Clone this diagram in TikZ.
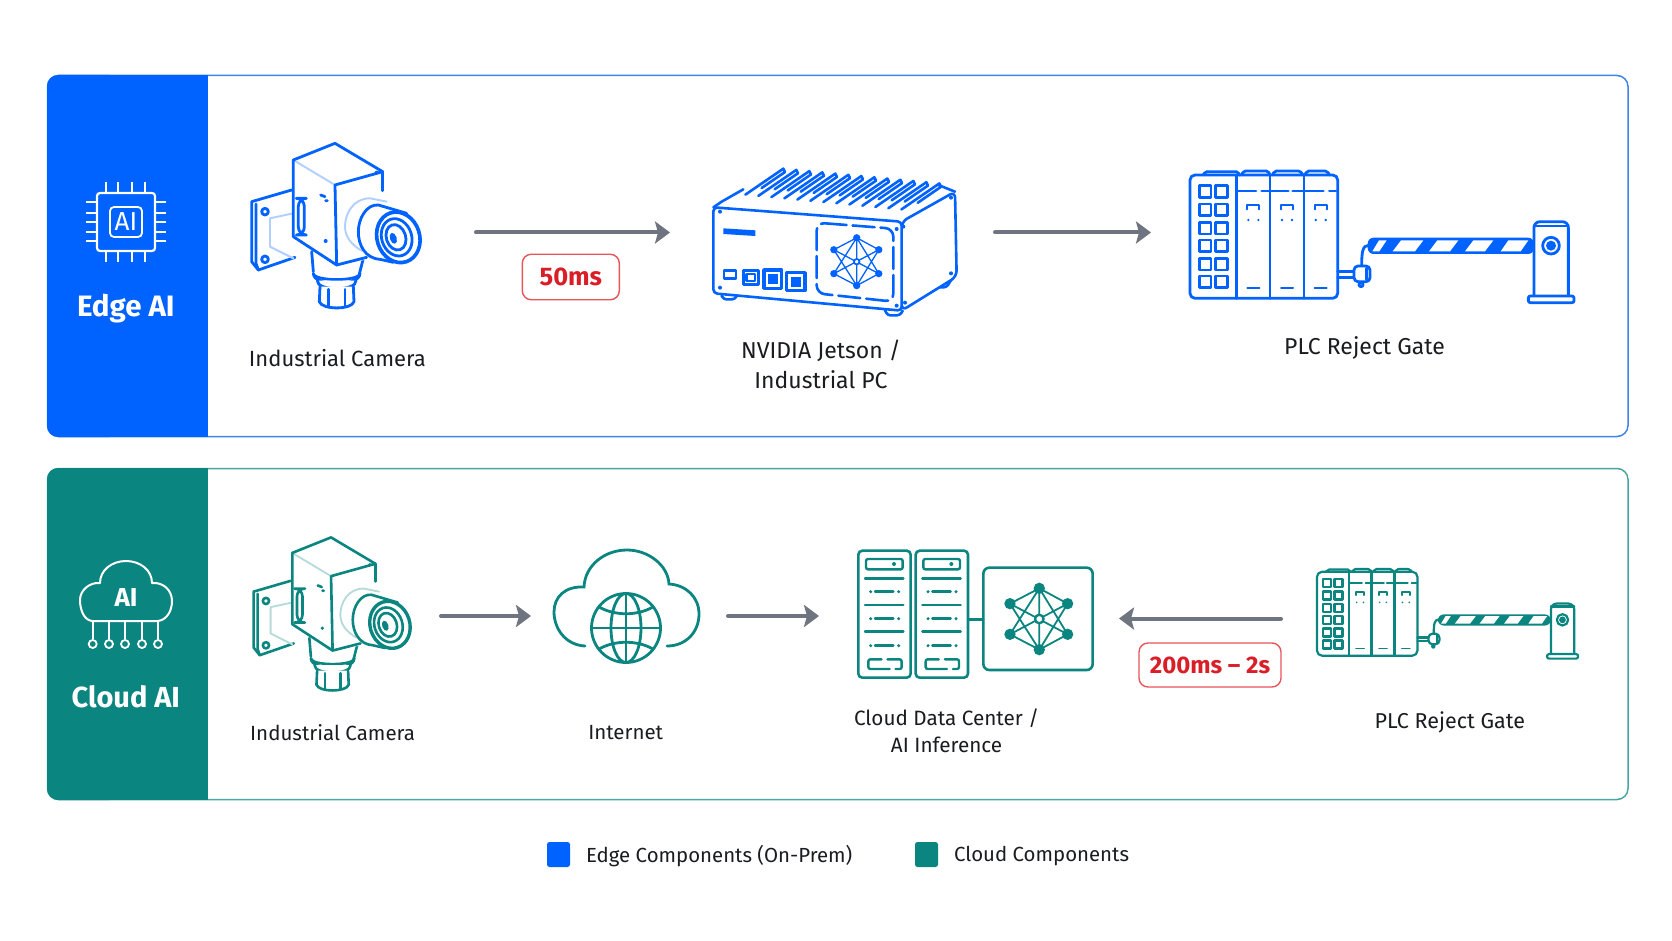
\documentclass[tikz,border=0pt]{standalone}
\usepackage{fontspec}
\setmainfont{Fira Sans}
\usetikzlibrary{arrows.meta}
\definecolor{blueE}{HTML}{0062FF}
\definecolor{tealC}{HTML}{0B8580}
\definecolor{blueL}{HTML}{3F84E8}
\definecolor{tealL}{HTML}{4BA5A0}
\definecolor{arrowG}{HTML}{6E7480}
\definecolor{redT}{HTML}{DA1E28}
\definecolor{redB}{HTML}{E8565C}
\definecolor{inkT}{HTML}{1A1C20}
\tikzset{
  flow/.style={draw=arrowG,line width=4pt,line cap=round,-{Stealth[length=15pt,width=22pt,inset=3pt]}},
  badge/.style={draw=redB,line width=1.4pt,rounded corners=9pt,fill=white,text=redT,inner sep=0pt,anchor=center},
  lbl/.style={text=inkT,align=center,inner sep=0pt,anchor=center},
  side/.style={text=white,font=\fontsize{29.5}{32}\selectfont\bfseries,inner sep=0pt,anchor=center},
}
\newcommand{\fsz}[1]{\fontsize{#1}{1.3\dimexpr #1pt\relax}\selectfont}
% camera, drawn on a 630x570 grid
\newcommand{\camicon}[5]{%
\begin{scope}[shift={(#2,#3)},scale=#4/3,line width=#5pt,draw=#1,line join=round,line cap=round]
  % bracket
  \draw[fill=white] (185,180) -- (65,215) -- (65,395) -- (85,420) -- (195,382);
  \draw (78,222) -- (78,400) -- (85,420);
  \draw[#1!30,line width=0.7*#5pt] (120,265) -- (190,250) (120,265) -- (120,350) -- (190,385);
  \draw (105,245) circle[radius=10] (105,388) circle[radius=10];
  % neck and gland
  \draw[fill=white] (245,365) -- (250,425) (400,385) -- (388,432);
  \draw[fill=white] (250,430) .. controls (250,472) and (390,472) .. (390,430) .. controls (390,455) and (250,455) .. (250,430);
  \draw[fill=white] (262,452) .. controls (260,484) and (380,484) .. (378,452);
  \draw[fill=white] (270,470) -- (268,515) .. controls (275,540) and (365,540) .. (372,515) -- (370,470);
  \draw (295,478) -- (295,528) (345,478) -- (345,528);
  % body
  \fill[white] (190,90) -- (315,40) -- (458,125) -- (458,380) -- (320,405) -- (190,320) -- cycle;
  \draw[#1!30,line width=0.7*#5pt] (190,90) -- (315,165);
  \draw (190,90) -- (315,40) -- (458,125);
  \draw (190,90) -- (190,320) -- (320,405) -- (410,382);
  \draw (458,125) -- (315,165) -- (320,405);
  \draw (458,125) -- (458,182);
  \draw[rounded corners=8pt] (205,205) rectangle (223,315);
  \draw (272,195) -- (285,200) (287,212) -- (292,212);
  \fill[#1] (440,128) circle[radius=6] (287,333) circle[radius=6];
  % lens
  \draw[#1!30,fill=white,line width=0.7*#5pt] (470,215) -- (420,205) .. controls (370,205) and (345,250) .. (345,290) .. controls (345,320) and (365,345) .. (395,362);
  \draw[fill=white] (530,250) -- (445,225) .. controls (410,222) and (385,265) .. (385,305) .. controls (385,345) and (405,385) .. (450,388) -- (490,397);
  \draw[fill=white,line width=1.3*#5pt] (505,322) circle[x radius=64,y radius=77,rotate=18];
  \draw (500,322) circle[x radius=45,y radius=57,rotate=18];
  \draw (498,322) circle[x radius=29,y radius=39,rotate=18];
  \fill[#1] (490,325) circle[x radius=10,y radius=17,rotate=18];
\end{scope}}
% PLC rack and gate, drawn on a 1320x600 grid
\newcommand{\plcicon}[5]{%
\begin{scope}[shift={(#2,#3)},scale=#4/3,line width=#5pt,draw=#1,line join=round,line cap=round]
  \draw[rounded corners=2pt] (100,105) -- (105,95) -- (205,95) -- (208,105);
  \draw[rounded corners=2pt] (215,105) -- (220,93) -- (295,93) -- (300,105);
  \draw[rounded corners=2pt] (308,105) -- (313,93) -- (392,93) -- (398,105);
  \draw[rounded corners=2pt] (405,105) -- (410,93) -- (472,93) -- (478,105);
  \draw[rounded corners=5pt] (60,105) rectangle (503,475);
  \draw (200,105) -- (200,475) (300,105) -- (300,475) (402,105) -- (402,475);
  \foreach \yy in {137,192,247,300,355,408}{
    \draw (88,\yy) rectangle ++(35,35);
    \draw (137,\yy) rectangle ++(35,35);
  }
  \draw (205,153) -- (258,153) (275,153) -- (355,153) (368,153) -- (460,153) (478,153) -- (498,153);
  \foreach \xx in {232,333,434}{
    \draw[line width=0.8*#5pt] (\xx,208) -- (\xx,195) -- (\xx+36,195) -- (\xx+36,208);
    \fill[#1] (\xx+3,240) circle[radius=4] (\xx+33,240) circle[radius=4];
    \draw[line width=0.7*#5pt] (\xx,443) -- (\xx+36,443);
  }
  \draw (503,395) -- (552,395) (503,412) -- (552,412);
  \draw (596,316) .. controls (578,316) and (575,335) .. (575,378);
  \draw[rounded corners=4pt,fill=white] (552,378) rectangle (600,425);
  \draw (590,385) -- (590,418);
  \draw[fill=white] (573,434) circle[radius=6];
  \fill[#1,rounded corners=6pt] (593,293) rectangle (1092,342);
  \fill[white] (607,334) -- (627,301) -- (650,301) -- (628,334) -- cycle;
  \fill[white] (668,334) -- (693,301) -- (760,301) -- (735,334) -- cycle;
  \fill[white] (777,334) -- (802,301) -- (865,301) -- (840,334) -- cycle;
  \fill[white] (885,334) -- (910,301) -- (970,301) -- (945,334) -- cycle;
  \fill[white] (992,334) -- (1015,301) -- (1075,301) -- (1052,334) -- cycle;
  \draw[fill=white,rounded corners=6pt] (1092,467) -- (1092,245) -- (1195,245) -- (1195,467);
  \draw (1092,258) -- (1195,258);
  \draw[fill=white] (1143,317) circle[radius=25];
  \fill[#1] (1143,317) circle[radius=15];
  \draw[fill=white,rounded corners=2pt] (1075,468) rectangle (1212,488);
\end{scope}}
% network glyph
\newcommand{\neticon}[6]{%
\begin{scope}[shift={(#2,#3)},scale=#4/3,line width=#5pt,draw=#1]
  \coordinate (n1) at (0,-92); \coordinate (n2) at (-88,-46); \coordinate (n3) at (85,-46);
  \coordinate (n4) at (-88,46); \coordinate (n5) at (85,46); \coordinate (n6) at (0,92); \coordinate (n0) at (0,0);
  \draw (n1)--(n2) (n3)--(n1) (n4)--(n6)--(n5) (n1)--(n6) (n2)--(n5) (n3)--(n4) (n1)--(n4) (n1)--(n5) (n6)--(n2) (n6)--(n3);
  \foreach \p in {n1,n2,n3,n4,n5,n6}{\fill[#1] (\p) circle[radius=#6];}
  \draw[fill=white,line width=1.3*#5pt] (n0) circle[radius=#6*0.75];
\end{scope}}
\begin{document}
\begin{tikzpicture}[x=1pt,y=-1pt]
\useasboundingbox (0,0) rectangle (1672,941);
\fill[white] (0,0) rectangle (1672,941);

% ---- panels
\draw[blueL,line width=1.5pt,fill=white,rounded corners=11pt] (47.5,75.5) rectangle (1628,436.5);
\fill[blueE,rounded corners=11pt] (120,75) -- (47,75) -- (47,437) -- (120,437) -- cycle;
\fill[blueE] (110,75) rectangle (208,437);
\draw[tealL,line width=1.5pt,fill=white,rounded corners=11pt] (47.5,468.5) rectangle (1628,799.5);
\fill[tealC,rounded corners=11pt] (120,468) -- (47,468) -- (47,800) -- (120,800) -- cycle;
\fill[tealC] (110,468) rectangle (208,800);

% ---- chip icon
\begin{scope}[draw=white,line width=2pt]
  \foreach \xx in {106,118,132,145}{\draw (\xx,182) -- (\xx,193) (\xx,251) -- (\xx,262);}
  \foreach \yy in {202,213,222,232,241}{\draw (86,\yy) -- (97,\yy) (155,\yy) -- (166,\yy);}
  \draw[rounded corners=3pt,line width=2.2pt] (97,193) rectangle (155,251);
  \draw[rounded corners=4pt,line width=1.8pt] (110,207) rectangle (142,237);
\end{scope}
\node[text=white,font=\fsz{26},inner sep=0pt] (chipAI) at (126,222) {AI};
\node[side] (edgeT) at (125.8,309) {Edge AI};

% ---- cloud AI icon
\draw[white,line width=2pt,line join=round] (92,621) .. controls (84,620) and (80,610) .. (80,600) .. controls (80,590) and (90,582) .. (100,583) .. controls (100,570) and (112,561) .. (126,561) .. controls (140,561) and (152,570) .. (152,583) .. controls (163,582) and (172,590) .. (172,601) .. controls (172,612) and (166,620) .. (158,621) -- cycle;
\foreach \xx in {92.7,109,125,142,158}{
  \draw[white,line width=1.6pt] (\xx,621) -- (\xx,639);
  \draw[white,line width=1.8pt] (\xx,644) circle[radius=4];
}
\node[text=white,font=\fsz{26}\bfseries,inner sep=0pt] (cloudAI) at (126,597) {AI};
\node[side,font=\fsz{29}\bfseries] (cloudT) at (125.8,697) {Cloud AI};

% ---- edge row icons
\camicon{blueE}{230}{130}{1}{2.8}
\begin{scope}[shift={(680,130)},scale=1/3,line width=2.6pt,draw=blueE,line join=round,line cap=round]
  \foreach \i in {0,...,12}{
    \draw ({196+39*\i},{194+3.7*\i}) -- ({310+39*\i},{116+3.7*\i}) -- ({315+39*\i},{126+3.7*\i}) -- ({245+39*\i},{174+3.7*\i});
  }
  \draw[fill=white,rounded corners=3pt] (125,497) -- (130,508) -- (165,508) -- (170,498);
  \draw[fill=white,rounded corners=3pt] (615,540) -- (622,556) -- (660,556) -- (668,542);
  \draw[fill=white,rounded corners=3pt] (780,472) -- (800,472) -- (812,452);
  \draw (100,232) -- (125,215) -- (190,178);
  \draw (775,165) -- (825,185);
  \draw[fill=white,rounded corners=6pt] (665,275) -- (825,185) -- (830,440) -- (665,542) -- cycle;
  \draw[rounded corners=4pt,fill=white] (100,232) -- (665,275) -- (665,542) -- (100,490) -- cycle;
  \fill[blueE] (130,295) -- (226,301) -- (226,318) -- (130,312) -- cycle;
  \draw (132,422) rectangle (168,445);
  \draw (190,422) rectangle (235,463) (200,432) rectangle (225,453);
  \draw[line width=3.5pt] (252,420) rectangle (305,475);
  \fill[blueE] (265,433) rectangle (293,462);
  \draw[line width=3.5pt] (320,428) rectangle (375,482);
  \fill[blueE] (333,441) rectangle (362,470);
  \draw[dash pattern=on 22pt off 6pt,rounded corners=8pt] (410,278) -- (640,296) -- (640,515) -- (410,490) -- cycle;
  \foreach \a/\b in {120/245,120/473,650/297,650/527,813/203,813/430,670/290,675/518}{\fill[blueE] (\a,\b) circle[radius=6];}
\end{scope}
\neticon{blueE}{856.7}{261.7}{0.78}{1.3}{14}
\plcicon{blueE}{1170}{140}{1}{2.8}

% ---- cloud row icons
\camicon{tealC}{233.4}{525}{0.93}{2.6}
\draw[tealC,line width=2.8pt,line cap=round] (585,646) .. controls (565,645) and (554,628) .. (554,612) .. controls (554,597) and (565,586) .. (584,587) .. controls (585,565) and (605,550) .. (627,550) .. controls (648,550) and (668,565) .. (669,584) .. controls (686,585) and (699,597) .. (699,614) .. controls (699,632) and (686,646) .. (667,646);
\begin{scope}[draw=tealC,line width=2.8pt]
  \draw (626,628) circle[radius=34.5];
  \draw (626,628) circle[x radius=15,y radius=34.5];
  \draw (626,593.5) -- (626,662.5) (591.5,628) -- (660.5,628);
  \draw (599,607) .. controls (615,616) and (637,616) .. (653,607);
  \draw (599,649) .. controls (615,640) and (637,640) .. (653,649);
\end{scope}
\begin{scope}[shift={(840,530)},scale=1/3,line width=2.4pt,draw=tealC,line cap=round]
  \foreach \xo in {0,172}{
    \draw[rounded corners=4pt,line width=2.6pt] (55+\xo,62) rectangle (212+\xo,443);
    \draw[rounded corners=2pt] (78+\xo,87) rectangle (188+\xo,118);
    \fill[tealC] (162+\xo,102) circle[radius=6];
    \foreach \yy in {145,225,305}{\draw (75+\xo,\yy) -- (190+\xo,\yy);}
    \foreach \yy in {185,266,347}{
      \fill[tealC] (92+\xo,\yy) circle[radius=5] (176+\xo,\yy) circle[radius=5];
      \draw (105+\xo,\yy) -- (160+\xo,\yy);
    }
    \draw[dash pattern=on 28pt off 6pt,rounded corners=2pt] (85+\xo,388) rectangle (185+\xo,417);
  }
  \draw (385,268) -- (430,268);
  \draw[rounded corners=6pt,line width=2.6pt] (430,113) rectangle (758,420);
\end{scope}
\neticon{tealC}{1039.3}{619}{1}{1.8}{17}
\plcicon{tealC}{1303.4}{548}{0.68}{2.2}

% ---- labels
\node[lbl,font=\fsz{22}] (tCam) at (337.4,358) {Industrial Camera};
\node[lbl,font=\fsz{23}] (tJet) at (821,364.6) {NVIDIA Jetson /\\Industrial PC};
\node[lbl,font=\fsz{23}] (tPlc) at (1364.5,348) {PLC Reject Gate};
\node[lbl,font=\fsz{20.5}] (bCam) at (332.6,732.5) {Industrial Camera};
\node[lbl,font=\fsz{20.5}] (bNet) at (625.7,732.5) {Internet};
\node[lbl,font=\fsz{20.7}] (bDc) at (946.6,731) {Cloud Data Center /\\AI Inference};
\node[lbl,font=\fsz{21.5}] (bPlc) at (1449.8,722.5) {PLC Reject Gate};

% ---- badges
\node[badge,font=\fsz{25.5}\bfseries,minimum width=97pt,minimum height=45.5pt] (b50) at (570.8,277) {\raisebox{-1pt}{50ms}};
\node[badge,font=\fsz{24}\bfseries,minimum width=142pt,minimum height=44pt] (b200) at (1210,665) {\raisebox{-1pt}{200ms – 2s}};

% ---- connectors
\coordinate (a1s) at (476,232.5); \coordinate (a1e) at (670,232.5);
\coordinate (a2s) at (995,232.5); \coordinate (a2e) at (1151,232.5);
\coordinate (a3s) at (441,616); \coordinate (a3e) at (531,616);
\coordinate (a4s) at (728,616); \coordinate (a4e) at (819,616);
\coordinate (a5s) at (1281,618.5); \coordinate (a5e) at (1119,618.5);
\draw[flow] (a1s) -- (a1e);
\draw[flow] (a2s) -- (a2e);
\draw[flow] (a3s) -- (a3e);
\draw[flow] (a4s) -- (a4e);
\draw[flow] (a5s) -- (a5e);

% ---- legend
\fill[blueE,rounded corners=2.5pt] (547,842) rectangle (570,867);
\node[lbl,font=\fsz{20.4},anchor=west] (lgE) at (586,856.5) {Edge Components (On-Prem)};
\fill[tealC,rounded corners=2.5pt] (915,842) rectangle (938,867);
\node[lbl,font=\fsz{20.4},anchor=west] (lgC) at (954,856.5) {Cloud Components};
\end{tikzpicture}
\end{document}
